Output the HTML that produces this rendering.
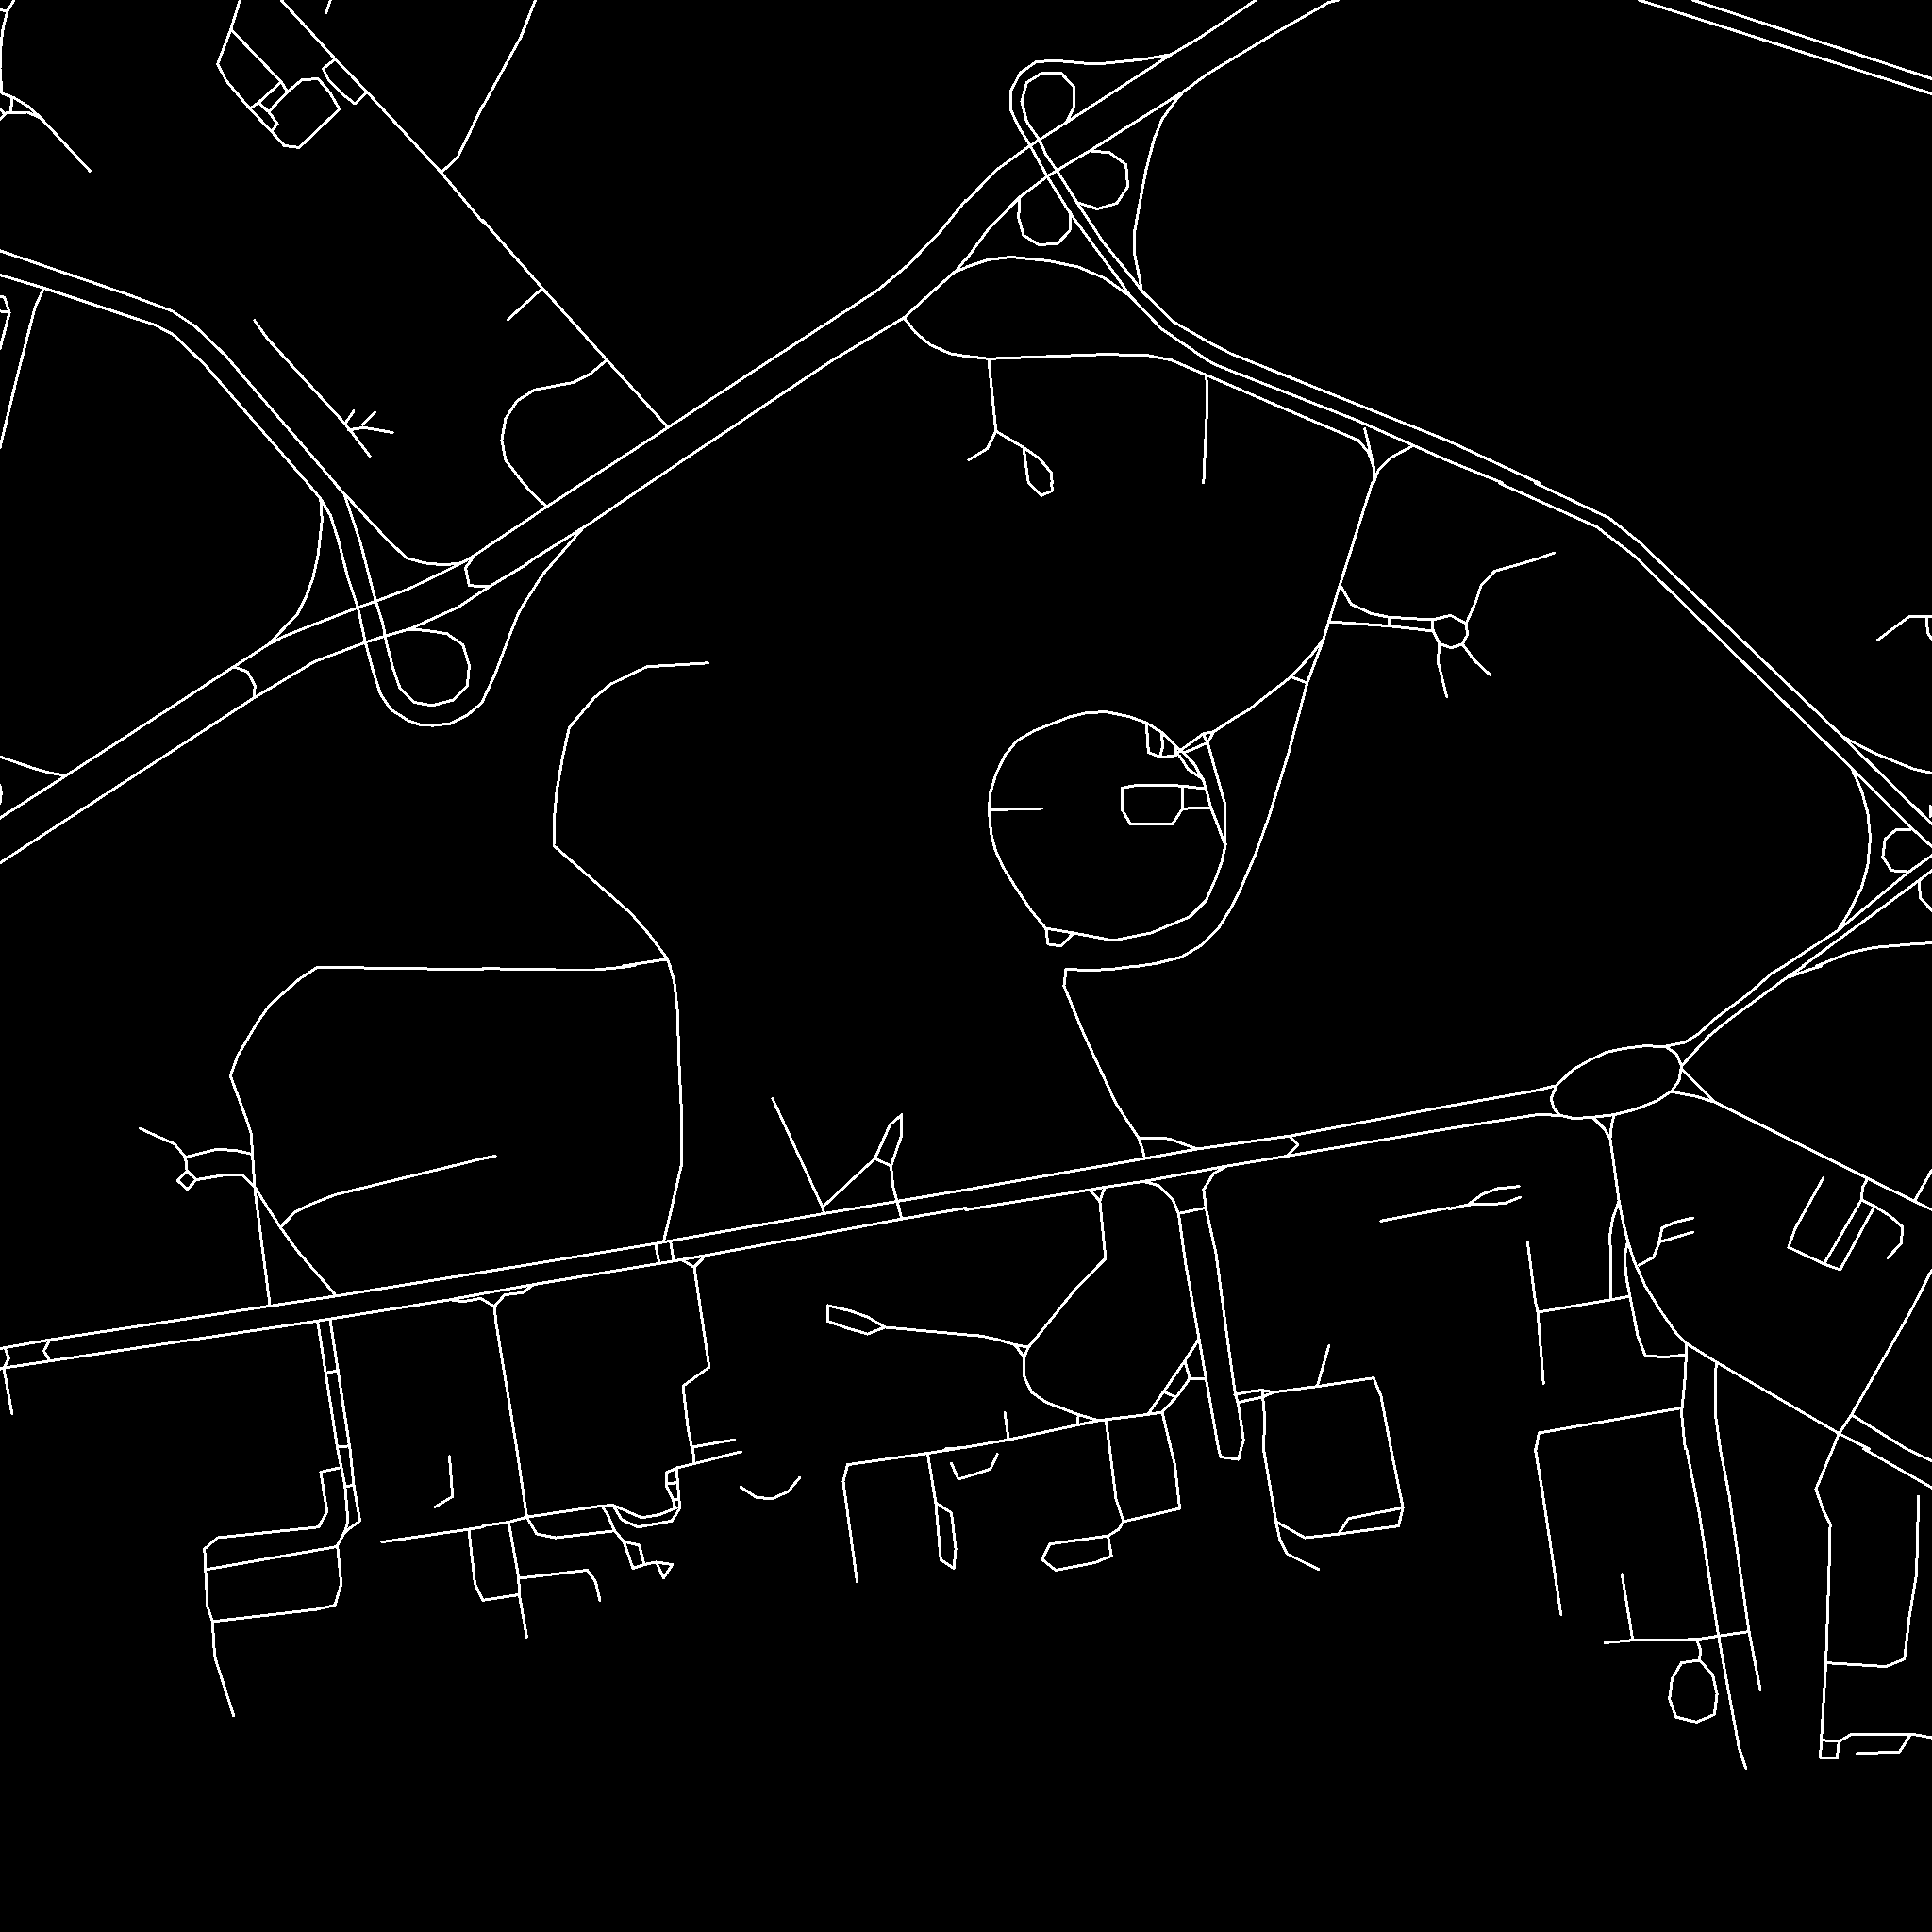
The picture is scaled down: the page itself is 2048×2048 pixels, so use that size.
<!DOCTYPE html><html><head><meta charset="utf-8"><title>map</title><style>html,body{margin:0;padding:0;background:#000}svg{display:block}</style></head><body>
<svg width="2048" height="2048" viewBox="0 0 2048 2048"><rect width="2048" height="2048" fill="#000"/><g fill="none" stroke="#fff" stroke-width="3" stroke-linecap="round" stroke-linejoin="round" shape-rendering="crispEdges">
<path d="M15 0 L7.8 11.9 L2.6 33 L0.5 54 L0 72.5 L2 98.9 L14.5 103.5 L30 112.8 L43.5 125.3 L95.2 181.2"/>
<path d="M0 10.4 L7.8 11.9"/>
<path d="M12.9 104.6 L11.4 118"/>
<path d="M0 126.8 L7.2 119.6 L29 119 L43.5 125.3"/>
<path d="M0 115 L4 120"/>
<path d="M254.3 0 L244.8 31.1 L230.7 67.8 L239.8 85.5 L264.9 115.3 L287.5 139.1 L301.4 154.4 L317.3 156.4 L359.7 115.9 L349.7 98.1 L337.1 83.5 L319.9 84.8 L304.7 97.4 L284.8 118.6"/>
<path d="M274.2 108.7 L284.8 118.6 L294.1 131.2 L288.1 139.1"/>
<path d="M244.8 31.1 L298.1 86.8 L304.7 97.4"/>
<path d="M298.1 86.8 L274.2 108.7 L264.9 115.3"/>
<path d="M355.7 62.3 L342.4 72.9 L348.4 84.8 L364.3 100.7 L376.2 110 L388.8 98.1"/>
<path d="M350.4 0 L345.8 13.9"/>
<path d="M298.1 0 L355.1 62.3 L389.6 98.1 L467.7 182.9 L512 235.9"/>
<path d="M512 111.3 L485 167 L467.7 182.9"/>
<path d="M0 265.8 L140.5 314 L182.9 329.9 L206.7 345.8 L238.5 376.3 L355.1 512"/>
<path d="M0 291.5 L46.4 305.3 L164.3 344.5 L184.2 355.1 L217.3 386.9 L326 512"/>
<path d="M46.4 305.3 L37.1 326 L18.6 397.5 L0 474.4"/>
<path d="M0 314 L4.8 315.4 L10.1 331.3 L0 369.7"/>
<path d="M0 329.9 L10.1 331.3"/>
<path d="M269.8 339.7 L283.6 359.1 L365.7 449.2 L392.2 483.6"/>
<path d="M365.7 449.2 L375 435.9"/>
<path d="M369.7 455.8 L385.6 453.2 L416.1 458.5"/>
<path d="M384.3 450 L397.5 437.3"/>
<path d="M567.7 0 L551.8 39.8 L512 112.6"/>
<path d="M512 233.7 L574.3 304.8 L643.2 381.6 L708.1 453.2"/>
<path d="M574.3 306.1 L538.5 338.7"/>
<path d="M643.2 381.6 L626 396.2 L607.4 405.5 L566.3 413.4 L547.8 425.3 L535.9 443.9 L531.9 466.4 L535.9 487.6 L554.4 512"/>
<path d="M618 512 L708.1 453.2 L816.8 381.6 L930.7 307.4 L962.5 280.9 L997 245.1 L1024 212"/>
<path d="M688.2 512 L803.5 434.6 L883 381.6 L958.5 336.6 L989 308.7 L1014.2 286.2 L1024 274.3"/>
<path d="M1014.2 287.5 L1024 283.6"/>
<path d="M958.5 337.1 L970.5 352.5 L986.4 365.7 L1007.6 375 L1024 377.6"/>
<path d="M1024 213.6 L1055.8 180.5 L1091.6 154.6 L1130 130.1 L1241.3 57.9 L1271.8 40"/>
<path d="M1024 275.2 L1047.9 242.7 L1081 208.9 L1110.1 187.1 L1139.3 169.2 L1155.2 159.9 L1254.6 97 L1280 78.4"/>
<path d="M1241.3 57.9 L1209.5 63.2 L1169.8 67.2 L1151.2 67.2 L1116.8 64.1 L1098.2 65.8 L1081.6 77.1 L1071.7 96.3 L1071.7 116.9 L1080.3 135.4 L1092.2 154.6 L1110.1 187.1 L1134 225.5 L1163.1 265.3 L1185.7 296"/>
<path d="M1130.7 129.4 L1138.6 112.9 L1138.6 92.3 L1124.7 77.4 L1104.2 77.4 L1088.3 87.7 L1083 107.6 L1088.3 128.8 L1101.5 148 L1108.8 163.9 L1121.4 182.4 L1141.9 214.9 L1169.8 257.3 L1201.2 296"/>
<path d="M1155.2 159.9 L1176.4 161.9 L1193.6 174.5 L1195.6 197.7 L1183.7 215.6 L1163.1 221.5 L1144.6 215.6 L1141.9 214.9"/>
<path d="M1081 208.9 L1079.7 230.8 L1085 249.4 L1100.9 259.3 L1120.7 258.6 L1134 244.7 L1134.6 225.5"/>
<path d="M1254.6 97 L1246.6 106.3 L1232 126.1 L1223.4 147.3 L1214.8 180.5 L1208.2 214.9 L1202.2 248 L1202.9 270.6 L1208.2 296"/>
<path d="M1024 283.1 L1047.9 275.2 L1071.7 272.5 L1111.5 276.5 L1143.3 283.1 L1169.8 294.4 L1172.4 296"/>
<path d="M1331.4 0 L1271.8 40"/>
<path d="M1418.9 0 L1408.3 2.7 L1352.6 34.5 L1280 78.4"/>
<path d="M1280 362 L1304.9 375 L1536 467.7"/>
<path d="M1280 381.9 L1289 386.9 L1437.4 445.2 L1536 488.9"/>
<path d="M1185.7 296 L1198.4 314.3 L1231.5 348.8 L1280 381.9"/>
<path d="M1201.2 296 L1210.3 308.3 L1243.4 340.8 L1280 362"/>
<path d="M1208.2 296 L1210.3 308.3"/>
<path d="M1172.4 296 L1198.4 314.3"/>
<path d="M1024 377.6 L1047.9 380.3 L1167.1 375.8 L1214.8 376.3 L1241.3 381.6 L1278.4 397.5 L1440.1 466.9 L1450.7 479.7 L1456.5 495.6 L1456 512"/>
<path d="M1446.7 454.5 L1454.6 487.6"/>
<path d="M1497 473 L1474.5 485 L1461.3 498.2 L1456 512"/>
<path d="M1047.9 380.3 L1055.8 457.1 L1046.5 475.7 L1026.7 487.6"/>
<path d="M1055.8 457.1 L1085 474.4 L1102.2 486.3 L1114.1 500.9 L1115.4 512"/>
<path d="M1085 474.4 L1090.3 512"/>
<path d="M1278.9 398.8 L1279.7 429.3 L1275.8 512"/>
<path d="M1737.4 0 L2048 99.4"/>
<path d="M1794.4 0 L2048 83.5"/>
<path d="M1536 467.7 L1631.4 512"/>
<path d="M1536 488.9 L1593 512"/>
<path d="M0 867.1 L70.2 822.1 L247.8 706.8 L284.9 682.9 L300 675 L326.5 664.4 L378.2 644.5 L398.7 637.2 L432.5 624.6 L470.9 606.1 L489.5 596.8 L502.7 588.9 L556 553.1"/>
<path d="M0 914.8 L212 777 L269 739.9 L300 721.4 L333.1 701.5 L387.5 680.9 L408 674.3 L433.8 667 L485.5 643.8 L518.6 622 L556 599.5"/>
<path d="M326 512 L325.8 512 L339.8 528.6 L350.4 546.5 L358.3 571.6 L368.9 612.7 L379.5 644.5 L387.5 681.6 L395.4 710.8 L403.4 735.9 L414 751.8 L432.5 763.8 L445.8 768.4 L459 769.1 L477.6 767.1 L494.8 758.5 L510.7 745.2 L525.3 713.4 L541.2 671 L549.1 651.1 L556 639.2"/>
<path d="M354.3 512 L364.9 523.3 L371.6 543.8 L382.2 575.6 L392.8 616.7 L398.7 638.5 L406 661.7 L410 682.9 L416.6 708.1 L423.9 729.3 L439.1 744.5 L458.3 747.9 L480.9 741.9 L495.4 726.7 L497.4 705.5 L490.8 683.6 L473.6 671.7 L452.4 668.4 L433.8 667"/>
<path d="M339.8 528.6 L341.3 551.8 L337.1 588.9 L331.8 612.7 L323.9 633.9 L315.2 651.1 L300 667 L284.9 682.9"/>
<path d="M364.9 523.3 L412.6 574.3 L431.2 591.5 L449.7 596.8 L470.9 598.8 L489.5 596.8"/>
<path d="M502.7 588.9 L493.5 602.1 L497.4 620.7 L518.6 622"/>
<path d="M247.8 706.8 L262.4 712.1 L270.3 726.7 L269 739.9"/>
<path d="M0 802.2 L34.5 814.1 L53 819.4 L70.2 822.1"/>
<path d="M0 832.7 L1.3 840.6 L0 851.2"/>
<path d="M556 553.1 L579.6 537.2 L618 512"/>
<path d="M556 599.5 L565 592.8 L626 554.4 L688.2 512"/>
<path d="M554.4 512 L565 523.9 L579.6 537.2"/>
<path d="M556 639.2 L575.6 608.7 L618 559.7 L626 554.4"/>
<path d="M750.5 702.8 L685.6 706.8 L647.2 725.3 L629.9 739.9 L603.4 771.2 L596.3 803.5 L590.2 838 L587.5 867.1 L587 896.3 L668.4 967.8 L686.9 989 L706.8 1015.5 L710.2 1024"/>
<path d="M660.4 1024 L706.8 1016.8"/>
<path d="M1090.3 512 L1103.5 525.3 L1115.4 520.5 L1114.6 512"/>
<path d="M1454.6 512 L1420.2 620.7 L1403 677.6 L1385.7 724 L1365.9 798.2 L1344.7 867.1 L1331.4 904.2 L1315.5 941.3 L1304.9 962.5 L1291.7 983.7 L1273.1 1002.3 L1251.9 1014.7 L1225.4 1021.3 L1204.2 1024.5"/>
<path d="M1251.2 795.5 L1246.3 790.5 L1231.3 776.4 L1215.6 766.5 L1196.6 759.5 L1180 756.1 L1172.4 754.5 L1151.2 755.8 L1134 759.8 L1096.9 774.4 L1078.3 785 L1065.1 800.9 L1055.8 820.7 L1049.7 840.6 L1048.4 859.2 L1050.5 883 L1055.3 901.6 L1063.8 920.1 L1077 941.3 L1092.9 965.2 L1108.8 984.2 L1138 989 L1180.4 997 L1220.1 989 L1261.2 971.8 L1278.4 954.6 L1289 930.7 L1295.6 912.2 L1299.1 894.9 L1298.4 900 L1298.8 864.2 L1298 850.1 L1294.3 837.7 L1287.7 814.5 L1280.2 787.2"/>
<path d="M1215.6 766.5 L1216.4 788 L1217.7 797.6 L1228.9 802.1 L1236.3 802.1 L1246.3 800.9 L1251.2 795.5"/>
<path d="M1231.3 776.4 L1232.6 791.3 L1229.7 802.1"/>
<path d="M1246.3 790.5 L1246.3 800.9"/>
<path d="M1251.2 795.5 L1275.2 778.1 L1286.8 775.6 L1309.2 760.7 L1323.5 752.6 L1368.5 717.4 L1389.7 694.9 L1403 677.6"/>
<path d="M1254.5 798 L1267 793 L1280.2 787.2 L1286.8 775.6"/>
<path d="M1275.2 778.1 L1280.2 787.2"/>
<path d="M1251.2 795.5 L1254.5 798 L1267 811.2 L1271.1 819.5 L1275.2 826.1 L1279.4 839.4 L1283.5 855.9 L1290.1 872.5 L1297.6 893.2"/>
<path d="M1250.4 801.3 L1259.5 815.4 L1275.2 826.1"/>
<path d="M1277.7 836.1 L1259.5 834 L1242.1 832.3 L1206.5 832.3 L1189.5 835.2 L1189.5 858.4 L1198.2 873.3 L1242.9 873.3 L1253.3 857.6 L1253.3 834"/>
<path d="M1253.3 857.6 L1261.2 856.8 L1283.5 856.4"/>
<path d="M1368.5 717.4 L1385.7 724"/>
<path d="M1048.4 858.6 L1104.8 857"/>
<path d="M1108.8 984.2 L1110.9 1000.9 L1124.7 1002.8 L1138 989"/>
<path d="M1518.5 657 L1537.7 652.3 L1554.2 661 L1555.6 672.9 L1550.3 682.8 L1538.3 686.8 L1525.8 682.2 L1519.1 668.9 Z"/>
<path d="M1554.2 661 L1564.2 638.4 L1570.1 620.5 L1584.7 605.3 L1603.9 600 L1628.8 592.8 L1647.3 586.2"/>
<path d="M1550.3 682.8 L1562.9 700 L1580.1 715.9"/>
<path d="M1525.8 682.2 L1524.4 702 L1533.7 738.5"/>
<path d="M1421.1 621.2 L1432.3 640.4 L1453.5 650.4 L1472.8 654.3 L1518.5 657"/>
<path d="M1408.5 659 L1472.8 663.6 L1519.1 668.9"/>
<path d="M1472.8 654.3 L1472.1 662.3"/>
<path d="M1627.4 512 L1705.6 549.1 L1737.4 574.3 L1953.4 781 L2048 873.7"/>
<path d="M1589 512 L1692.4 558.4 L1732.1 588.9 L1962.7 814.1 L2026.3 877.7 L2048 897.6"/>
<path d="M1990.5 678.4 L2023.6 653.8 L2048 653"/>
<path d="M2042.2 653.8 L2043.5 671 L2048 677.6"/>
<path d="M1953.4 781 L1986.5 798.2 L2028.9 815.4 L2048 819.4"/>
<path d="M1962.7 814.1 L1973.3 838 L1979.9 861.8 L1982.5 888.3 L1979.9 917.5 L1973.3 941.3 L1960 967.8 L1948.1 986.4"/>
<path d="M2026.3 879 L2010.4 879 L1998.4 889.6 L1995.8 908.2 L2005.1 922.8 L2023.6 924.1"/>
<path d="M1891.1 1024 L1948.1 986.4 L2023.6 924.1 L2048 906.9"/>
<path d="M1911 1024 L2034.2 933.4 L2048 922.8"/>
<path d="M2034.2 933.4 L2035.5 951.9 L2048 965.2"/>
<path d="M2046.1 853.9 L2046.1 865.8"/>
<path d="M1925.6 1024 L1960 1010.2 L1986.5 1004.4 L2026.3 1000.9 L2048 999.6"/>
<path d="M512 1028 L434.6 1026.7 L336.6 1025.3 L318 1037.3 L286.2 1065.1 L273 1083.6 L251.8 1119.4 L244.3 1140.6 L261 1185.7 L266.3 1201.6 L267.7 1225.4 L270.3 1262.5 L286.2 1384.4"/>
<path d="M0 1429.5 L53 1420.2 L286.2 1384.4 L356.4 1373.8 L512 1348.6"/>
<path d="M0 1450.7 L53 1442.7 L336.6 1400.3 L349.8 1398.2 L477 1377.8 L512 1371.2"/>
<path d="M53 1420.2 L46.4 1432.1 L53 1442.7"/>
<path d="M5.3 1428.9 L9.3 1440.1 L4 1450.1 L0 1451.2"/>
<path d="M4 1450.1 L12.7 1498.4"/>
<path d="M336.6 1400.3 L357.8 1536"/>
<path d="M349.8 1398.2 L371 1536"/>
<path d="M348.5 1454.6 L357.8 1453.3"/>
<path d="M357.8 1534.1 L369.7 1532.8"/>
<path d="M148.4 1196.3 L185 1212.7 L196.6 1226.7 L198.2 1241.3"/>
<path d="M198.2 1241.3 L208 1250.6 L198.8 1260.7 L188.2 1251.4 Z"/>
<path d="M196.6 1226.7 L230 1218.3 L250.4 1219.6 L266.3 1223.3"/>
<path d="M208 1250.6 L239.8 1245.3 L257.1 1245.3 L270.3 1258.5 L280.9 1275.8 L298.1 1302.3 L315.4 1326.1 L356.4 1373.8"/>
<path d="M298.1 1300.1 L312.7 1285 L331.3 1275.8 L355.1 1266.5 L512 1228.1"/>
<path d="M512 1026.7 L588.9 1028 L631.3 1028 L660.4 1025.3 L673.7 1023.2"/>
<path d="M709.4 1022.7 L714.7 1039.9 L718.2 1071.7 L720 1130 L722.7 1183 L722.7 1233.4 L716.1 1262.5 L708.1 1297 L703.3 1316.8"/>
<path d="M512 1348.6 L694.9 1318.2 L873.7 1286.4 L1024 1261.2"/>
<path d="M512 1371.2 L569 1361.1 L698.8 1339.4 L747.9 1330.9 L955.9 1292.2 L1024 1280.5"/>
<path d="M694.9 1318.7 L698.8 1339.4"/>
<path d="M710.8 1316.8 L713.9 1335.4"/>
<path d="M722.7 1335.4 L735.9 1343.3 L747.9 1330.9"/>
<path d="M735.9 1343.3 L751.8 1449.3 L724 1469.2 L729.3 1514.3 L733.3 1534.1 L778.3 1526.2"/>
<path d="M479 1378 L491.4 1379.7 L509.6 1376.4 L524.1 1385.1 L534.9 1372.7 L554.3 1370.2 L565.9 1361.5"/>
<path d="M524.1 1385.1 L526.2 1404.5 L540.3 1490 L547.8 1536"/>
<path d="M512 1228.1 L525.3 1225.4"/>
<path d="M818.9 1164.5 L871.9 1279.7 L873.7 1286.4"/>
<path d="M871.9 1279.7 L927.5 1228.1 L943.4 1192.3 L955.9 1181.7 L955.9 1202.9 L944.5 1236 L927.5 1228.1"/>
<path d="M944.5 1236 L946.6 1257.2 L955.9 1292.2"/>
<path d="M877.7 1383.9 L877.2 1400.3 L897.6 1407.7 L919.6 1414.1 L938.1 1406.9 L920.1 1396.3 L901.6 1389.7 Z"/>
<path d="M938.1 1406.9 L1024 1414.9"/>
<path d="M1002.3 1536 L1024 1534.1"/>
<path d="M1204.2 1024 L1180.4 1027.2 L1153.9 1028.8 L1130 1027.2 L1127.9 1045.2 L1148.6 1095.6 L1183 1169.8 L1206.9 1206.3 L1210.8 1217.5 L1213.5 1228.1"/>
<path d="M1206.9 1206.3 L1230.7 1206.3 L1240 1207.4 L1269.1 1218"/>
<path d="M1024 1261.2 L1213.5 1228.1 L1269.1 1218 L1367.2 1204.2 L1536 1172.4"/>
<path d="M1024 1282.4 L1155.2 1261.2 L1171.1 1258.5 L1212.2 1252.4 L1300.9 1236 L1364.5 1225.4 L1536 1196.3"/>
<path d="M1367.2 1204.2 L1375.9 1213.5 L1364.5 1225.4"/>
<path d="M1155.2 1261.2 L1165.8 1273.1 L1171.1 1258.5"/>
<path d="M1165.8 1273.1 L1171.9 1334.1 L1140.6 1365.9 L1090.3 1428.1 L1085.5 1438.7 L1085.5 1458.6 L1093.4 1475.8 L1108.8 1486.4 L1143.3 1499.7 L1164.5 1505.8"/>
<path d="M1024 1414.9 L1039.9 1416.2 L1058.5 1420.2 L1075.7 1425.5 L1090.3 1428.1"/>
<path d="M1075.7 1425.5 L1085.5 1438.7"/>
<path d="M1212.2 1252.4 L1228.1 1256.7 L1243.4 1271.8 L1249.3 1286.4 L1257.2 1342 L1270.5 1416.2 L1278.4 1461.3 L1291.7 1536"/>
<path d="M1249.3 1286.4 L1277.1 1280.5"/>
<path d="M1300.9 1236 L1286.4 1244 L1275.8 1261.2 L1278.4 1281.1 L1289 1328.8 L1299.6 1408.3 L1308.9 1474.5 L1312.9 1490.4 L1318.2 1526.2 L1315.5 1536"/>
<path d="M1270.5 1420.2 L1255.9 1442.7 L1217.5 1498.4"/>
<path d="M1255.9 1442.7 L1261.2 1461.3 L1278.4 1461.3"/>
<path d="M1261.2 1461.3 L1247.9 1479.8 L1232 1497"/>
<path d="M1234.7 1475.8 L1246.6 1481.1"/>
<path d="M1024 1534.1 L1069.1 1526.2 L1164.5 1505.8 L1214.8 1499.7 L1232 1497"/>
<path d="M1065.1 1497 L1069.1 1526.2"/>
<path d="M1143.3 1499.7 L1141.9 1510.3"/>
<path d="M1172.4 1506.3 L1176.4 1536"/>
<path d="M1232 1497 L1241.3 1536"/>
<path d="M1308.9 1478.5 L1328.8 1474.5 L1338 1473.7 L1350 1475.8 L1396.3 1469.7 L1456 1460.7 L1463.9 1479.8 L1474.5 1536"/>
<path d="M1312.9 1486.4 L1338 1481.1 L1350 1475.8"/>
<path d="M1338 1473.7 L1340.7 1503.7 L1339.4 1536"/>
<path d="M1396.3 1469.7 L1408.8 1426.3"/>
<path d="M1463.9 1294.3 L1536 1280.5"/>
<path d="M1536 1172.4 L1626.1 1156.5 L1650 1150.7"/>
<path d="M1536 1196.3 L1628.8 1181.7 L1653.9 1182.2"/>
<path d="M1650 1150.7 L1667.2 1134 L1684.4 1124.2 L1703 1115.4 L1721.5 1111.5 L1742.7 1108.8 L1765.2 1109.3 L1777.2 1117.3 L1782.5 1130 L1779.8 1145.9 L1771.9 1156.5 L1756 1167.1 L1732.1 1176.4 L1710.9 1181.7 L1688.4 1184.3 L1668.5 1185.7 L1653.9 1182.2 L1647.3 1175.1 L1644.1 1164.5 Z"/>
<path d="M1765.2 1109.3 L1786.4 1104.8 L1801 1095.6 L1818.2 1079.7 L1854 1053.2 L1877.9 1032 L1891.1 1024"/>
<path d="M1782.5 1130 L1811.6 1098.2 L1832.8 1081 L1896.4 1034.6 L1912.3 1024"/>
<path d="M1896.4 1035.9 L1915 1028.8 L1930.9 1024"/>
<path d="M1782.5 1132.7 L1818.2 1168.4 L1979.9 1249.3 L2048 1282.4"/>
<path d="M1771.9 1157.3 L1798.4 1162.3 L1818.2 1168.4"/>
<path d="M1688.4 1184.3 L1700.3 1196.3 L1706.9 1206.9"/>
<path d="M1710.9 1181.7 L1708.3 1193.6 L1706.9 1206.9"/>
<path d="M1706.9 1206.9 L1716.2 1273.1 L1720.2 1294.3 L1725.5 1315.5 L1732.1 1336.7 L1744 1363.2 L1761.3 1391 L1777.2 1413.6 L1787.8 1424.2 L1819.6 1444 L1949.4 1519.6 L1981.2 1536"/>
<path d="M1716.2 1273.1 L1709.6 1291.7 L1706.1 1312.9 L1707.7 1326.1 L1707.7 1377.8"/>
<path d="M1725.5 1315.5 L1722 1332.7 L1724.2 1355.3 L1736.1 1416.2 L1744 1436.9 L1763.9 1438.7 L1786.4 1436.1"/>
<path d="M1787.8 1424.2 L1786.4 1458.6 L1782.5 1498.4 L1786.4 1536"/>
<path d="M1819.6 1444 L1818.2 1458.6 L1818.2 1498.4 L1823.5 1536"/>
<path d="M1630.1 1391 L1707.7 1377.8 L1726.8 1374.3"/>
<path d="M1619.5 1317.6 L1627.4 1379.1 L1630.1 1391 L1636.2 1466.6"/>
<path d="M1628.2 1536 L1631.4 1519 L1782.5 1492.5"/>
<path d="M1536 1281.6 L1555.9 1277.1 L1594.3 1275.8 L1611.5 1269.1"/>
<path d="M1555.9 1277.1 L1571.8 1265.7 L1587.7 1259.9 L1610.2 1257.7"/>
<path d="M1794.4 1291.1 L1775.8 1295.6 L1761.8 1301.7 L1758.6 1318.2 L1752.8 1332.7 L1737.4 1341.2"/>
<path d="M1758.6 1316.8 L1794.4 1306.2"/>
<path d="M1932.7 1248.7 L1903 1302.3 L1895.9 1322.1 L1933.5 1339.9 L1950.7 1346 L1986.5 1279.7"/>
<path d="M1933.5 1339.9 L1973.3 1271.8 L1974.6 1258.5 L1979.9 1249.3"/>
<path d="M1973.3 1271.8 L1986.5 1278.4 L2003.7 1289 L2017 1300.9 L2015.1 1318.2 L2001.1 1333.5"/>
<path d="M2048 1240 L2030.2 1271.8"/>
<path d="M2048 1346 L2024.9 1391 L1962.7 1499.7 L1949.4 1519.6 L1942.8 1536"/>
<path d="M1962.7 1499.7 L2021 1536"/>
<path d="M357.8 1536 L365.7 1574.4 L368.9 1612.9 L365.7 1623.5 L357.8 1638"/>
<path d="M371 1536 L375 1574.4 L381.6 1612.3 L369.7 1620.8 L365.7 1624.8"/>
<path d="M365.7 1575.8 L375 1574.4"/>
<path d="M360.4 1555.9 L340 1560.4 L346.6 1602.3 L337.9 1618.7 L230.6 1630.1 L216.8 1642 L217.8 1663.2 L220 1703 L225.3 1718.9 L227.4 1753.3 L229.2 1761.3 L247.8 1819"/>
<path d="M219.4 1663.7 L357.8 1639.4 L361.7 1679.1 L355.1 1701.6 L335.2 1706.1 L225.3 1718.9"/>
<path d="M476.5 1544 L479.7 1586.4 L461.1 1597.5"/>
<path d="M404.9 1634.6 L495.6 1621.3 L512 1618.7"/>
<path d="M496.9 1621.3 L503.5 1679.1 L512 1696.3"/>
<path d="M547.8 1536 L558.4 1608.2"/>
<path d="M512 1617.5 L539.2 1613.5 L558.4 1608.2 L637.9 1596.3 L649.8 1595.6 L680.3 1608.9 L698.8 1605.6 L717.4 1598.3"/>
<path d="M539.2 1613.5 L549.8 1672.5 L550.4 1690.4 L558.4 1735.4"/>
<path d="M549.8 1673.1 L622.6 1664.5 L631.3 1676.5 L635.9 1696.3"/>
<path d="M512 1696.3 L550.4 1690.4"/>
<path d="M558.4 1608.2 L569 1626.1 L588.9 1630.1 L651.1 1622.8"/>
<path d="M637.9 1596.3 L644.5 1606.2 L651.1 1622.1 L661.1 1634.1 L671 1662.5 L682.9 1658.6 L695.5 1655.9 L712.7 1658.6 L703.5 1672.5 L695.5 1655.9"/>
<path d="M661.1 1634.1 L677.6 1638 L682.9 1658.6"/>
<path d="M649.8 1595.6 L659.1 1610.9 L676.3 1618.8 L712.1 1612.2 L720.7 1598.9 L717.4 1559.9 L718 1555.9"/>
<path d="M718 1555.9 L706.1 1561.2 L706.1 1574.4 L713.4 1589 L715.4 1598.3 L717.4 1598.3"/>
<path d="M706.1 1573.1 L716.1 1571.8"/>
<path d="M713.4 1589 L718.7 1589"/>
<path d="M734.6 1536 L735.9 1551.6"/>
<path d="M718 1555.9 L735.9 1551.6 L768 1543.4"/>
<path d="M768 1543.3 L785.2 1538.9"/>
<path d="M785.2 1576.4 L801.1 1587 L817.7 1589 L835.6 1581.1 L847.5 1566.5"/>
<path d="M1024 1534 L983.3 1540.6 L898.5 1552.6 L893.9 1570.5 L908.5 1676.5"/>
<path d="M983.3 1540.6 L991.9 1593 L997.2 1653.3 L1011.1 1662.5 L1013.1 1642 L1008.5 1603.6 L991.9 1593"/>
<path d="M1008.5 1551.2 L1015.8 1567.8 L1024 1565.8"/>
<path d="M1024 1565.7 L1050 1557.2 L1057.1 1541.8"/>
<path d="M1176.4 1536 L1183 1589 L1191 1612.9 L1250.6 1599.1 L1245.3 1551.9 L1241.3 1536"/>
<path d="M1191 1612.9 L1185.7 1621.3 L1174.5 1628.2 L1112.8 1636.7 L1104.8 1653.1 L1118.9 1664.5 L1160.5 1656.6 L1178.2 1649.2 L1174.5 1628.2"/>
<path d="M1291.7 1536 L1293.8 1544.5 L1312.9 1547.1 L1315.5 1536"/>
<path d="M1339.4 1536 L1352.6 1612.9 L1356.6 1631.4 L1364.5 1647.3 L1397.7 1663.7"/>
<path d="M1352.6 1612.9 L1383.1 1630.1 L1418.9 1626.1 L1482.5 1617.6 L1487.2 1598.3 L1474.5 1536"/>
<path d="M1487.2 1598.3 L1429.5 1609.7 L1418.9 1626.1"/>
<path d="M1627.4 1536 L1635.4 1583.7 L1654.7 1711.4"/>
<path d="M1787.8 1536 L1801 1602.3 L1822.2 1737.4 L1843.4 1852.7 L1850.8 1874.7"/>
<path d="M1823.5 1536 L1832.8 1583.7 L1854 1729.5 L1865.9 1790.9"/>
<path d="M1701.6 1741.4 L1730.8 1738.7 L1798.4 1737.9 L1854 1729.5"/>
<path d="M1719.4 1669 L1730.8 1738.7"/>
<path d="M1798.4 1737.9 L1802.3 1748 L1801.8 1759.9 L1782.5 1762.6 L1772.4 1779.8 L1769.7 1801 L1776.6 1820.1 L1798.4 1825.4 L1817.4 1817.4 L1820.1 1795.7 L1815.6 1775.8 L1801.8 1759.9"/>
<path d="M1942.8 1536 L1925 1578.4 L1932.2 1599.6 L1940.1 1615.5 L1938.8 1668.5 L1935.6 1762.6 L1929.5 1863.3 L1947.3 1863.8 L1949.4 1846.1 L1930.9 1844.7"/>
<path d="M1975.9 1536 L2048 1577.1"/>
<path d="M2021 1536 L2048 1548.7"/>
<path d="M2033.7 1586.4 L2031.6 1668.5 L2024.1 1713.6 L2018.8 1758.6 L1999.2 1766.6 L1935.6 1762.6"/>
<path d="M1949.4 1846.1 L1963.2 1838.1 L2026.3 1838.1 L2048 1842.1"/>
<path d="M2024.9 1839.4 L2013.5 1857.2 L1968.5 1858.8"/>
</g></svg></body></html>
